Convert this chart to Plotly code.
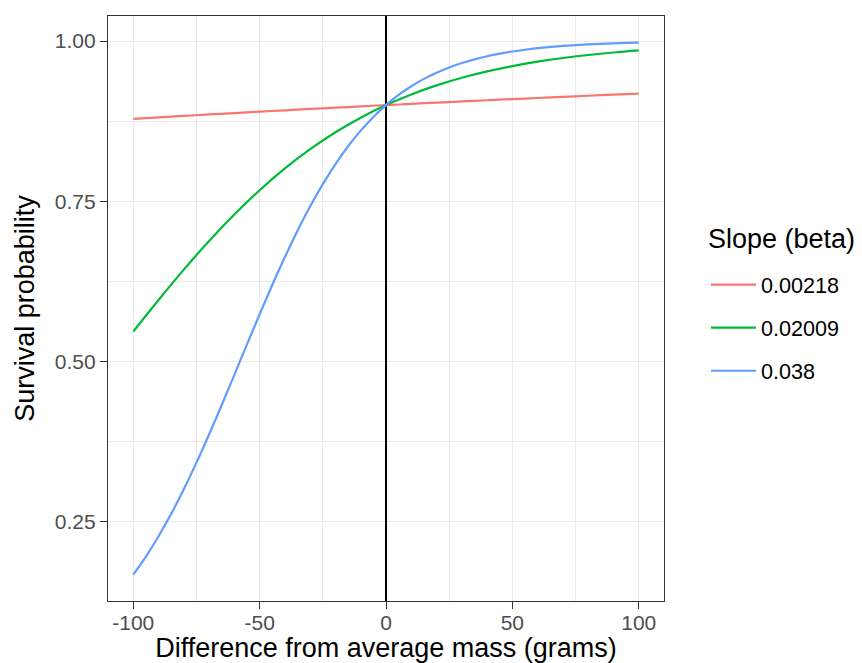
import plotly.graph_objects as go

# Difference from average mass (grams)
mass_diff = [-100, -90, -80, -70, -60, -50, -40, -30, -20, -10, 0,
             10, 20, 30, 40, 50, 60, 70, 80, 90, 100]
mass_diff_fine = [-100, -95, -90, -85, -80, -75, -70, -65, -60, -55, -50, -45, -40, -35, -30, -25,
                  -20, -15, -10, -5, 0, 5, 10, 15, 20, 25, 30, 35, 40, 45, 50, 55, 60, 65, 70,
                  75, 80, 85, 90, 95, 100]

slope_labels = ["0.00218", "0.02009", "0.038"]
legend_title = "Slope (beta)"

surv_00218 = [0.8784, 0.8808, 0.8831, 0.8854, 0.8876, 0.8897, 0.8919, 0.8940, 0.8960, 0.8980, 0.9000,
              0.9020, 0.9039, 0.9057, 0.9076, 0.9094, 0.9111, 0.9129, 0.9146, 0.9163, 0.9180]
surv_02009 = [0.5469, 0.5961, 0.6434, 0.6880, 0.7294, 0.7672, 0.8012, 0.8312, 0.8576, 0.8804, 0.9000,
              0.9167, 0.9308, 0.9427, 0.9526, 0.9609, 0.9678, 0.9735, 0.9782, 0.9821, 0.9853]
surv_038 = [0.1676, 0.1958, 0.2274, 0.2625, 0.3009, 0.3423, 0.3863, 0.4322, 0.4793, 0.5268, 0.5737,
            0.6194, 0.6631, 0.7042, 0.7422, 0.7768, 0.8080, 0.8358, 0.8602, 0.8815, 0.9000,
            0.9158, 0.9294, 0.9409, 0.9506, 0.9588, 0.9657, 0.9714, 0.9763, 0.9803, 0.9836,
            0.9864, 0.9888, 0.9907, 0.9923, 0.9936, 0.9947, 0.9956, 0.9964, 0.9970, 0.9975]

series_x = [mass_diff, mass_diff, mass_diff_fine]
series = [surv_00218, surv_02009, surv_038]
colors = ["#F8766D", "#00BA38", "#619CFF"]

x_ticks = [-100, -50, 0, 50, 100]
x_minor = [-75, -25, 25, 75]
y_ticks = [0.25, 0.50, 0.75, 1.00]
y_minor = [0.375, 0.625, 0.875]

FONT = "Liberation Sans, Arial, sans-serif"

fig = go.Figure()
for lab, xs, ys, col in zip(slope_labels, series_x, series, colors):
    fig.add_trace(go.Scatter(
        x=xs, y=ys, mode="lines", name=lab,
        line=dict(color=col, width=2.2, shape="spline", smoothing=1.0),
        legendgroup=lab,
    ))

axis_common = dict(
    showline=True, mirror=True, linecolor="#333333", linewidth=1.3,
    ticks="outside", ticklen=7, tickwidth=1.3, tickcolor="#333333",
    showgrid=True, gridcolor="#EBEBEB", gridwidth=1.4,
    tickfont=dict(family=FONT, size=21, color="#4D4D4D"),
)

fig.update_layout(
    width=862, height=663,
    margin=dict(l=108, r=198, t=16, b=62, autoexpand=False),
    paper_bgcolor="white", plot_bgcolor="white",
    font=dict(family=FONT, color="black"),
    xaxis=dict(
        range=[-110, 110], tickvals=x_ticks, ticktext=[str(v) for v in x_ticks],
        minor=dict(tickvals=x_minor, showgrid=True, gridcolor="#EBEBEB", gridwidth=0.8, ticks=""),
        zeroline=True, zerolinecolor="black", zerolinewidth=2,
        ticklabelstandoff=-4, automargin=True,
        title=dict(text="Difference from average mass (grams)",
                   font=dict(family=FONT, size=27, color="black"), standoff=10),
        **axis_common,
    ),
    yaxis=dict(
        range=[0.1265, 1.039], tickvals=y_ticks, ticktext=["%.2f" % v for v in y_ticks],
        minor=dict(tickvals=y_minor, showgrid=True, gridcolor="#EBEBEB", gridwidth=0.8, ticks=""),
        zeroline=False, automargin=False,
        title=dict(text="Survival probability",
                   font=dict(family=FONT, size=27, color="black"), standoff=12),
        **axis_common,
    ),
    legend=dict(
        x=1.0755, y=0.576, xanchor="left", yanchor="top",
        font=dict(family=FONT, size=21.6, color="black"),
        itemwidth=45,
        tracegroupgap=12, bgcolor="rgba(0,0,0,0)",
    ),
    showlegend=True,
    annotations=[dict(
        text=legend_title, xref="paper", yref="paper", x=1.0755, y=0.6188,
        xanchor="left", yanchor="middle", showarrow=False,
        font=dict(family=FONT, size=27, color="black"),
    )],
)

fig.write_html("out.html")
